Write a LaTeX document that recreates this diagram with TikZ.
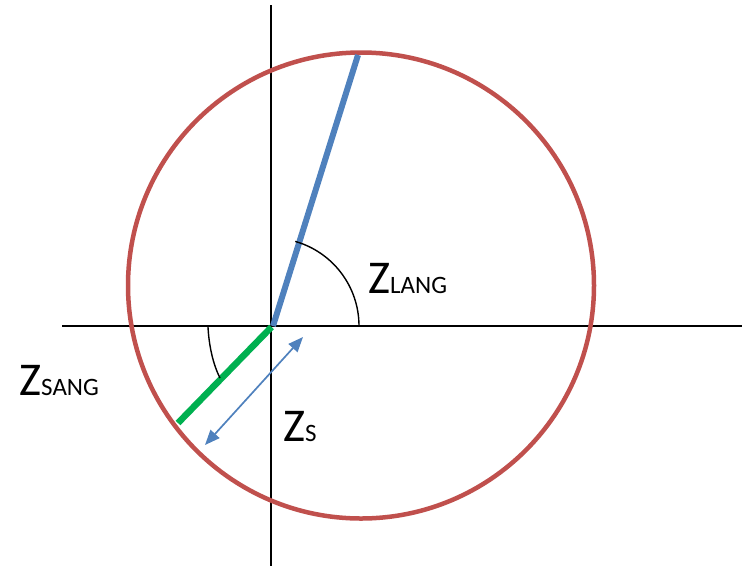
\documentclass[tikz,border=0pt]{standalone}
\usepackage{fontspec}
\setmainfont{Carlito}
\usetikzlibrary{arrows.meta}
\definecolor{circred}{RGB}{192,80,77}
\definecolor{lineblue}{RGB}{79,129,189}
\definecolor{linegreen}{RGB}{0,176,80}
\tikzset{
  axis/.style={line width=2.2pt, black},
  anglearc/.style={line width=1.4pt, black},
  lbl/.style={anchor=base west, inner sep=0pt, text=black},
}
\newcommand{\bigZ}{\fontsize{47}{47}\selectfont Z}
\newcommand{\smallsub}[1]{\fontsize{25}{25}\selectfont #1}
\begin{document}
\begin{tikzpicture}[x=1pt,y=-1pt]
\useasboundingbox (0,0) rectangle (742,566);
% coordinates
\coordinate (O) at (271,326);
\coordinate (vt) at (271,5);
\coordinate (vb) at (271,566);
\coordinate (hl) at (62,326);
\coordinate (hr) at (742,326);
\coordinate (C) at (361,285.5);
\coordinate (bs) at (273,326);
\coordinate (be) at (358,55);
\coordinate (gs) at (271.5,327);
\coordinate (ge) at (178,423);
\coordinate (a1) at (303,337);
\coordinate (a2) at (205,445);
\coordinate (s1) at (208,327);
\coordinate (s2) at (220,378);
% axes
\draw[axis] (vt) -- (vb);
\draw[axis] (hl) -- (hr);
% circle
\draw[circred, line width=4.5pt] (C) circle[radius=233pt];
% blue line
\draw[lineblue, line width=6pt] (bs) -- (be);
% green line
\draw[linegreen, line width=6.5pt] (gs) -- (ge);
% double arrow
\draw[lineblue, line width=1.7pt, {Triangle[length=15pt,width=12pt]}-{Triangle[length=15pt,width=12pt]}] (a1) -- (a2);
% angle arcs
\draw[anglearc] (O) ++(88pt,0pt) arc[start angle=0, end angle=74, radius=88pt];
\draw[anglearc] (s1) .. controls (209,346) and (213,364) .. (s2);
% labels
\node[lbl] (zlang) at (368,293) {\bigZ\smallsub{LANG}};
\node[lbl] (zsang) at (19,395) {\bigZ\smallsub{SANG}};
\node[lbl] (zs) at (283,441) {\bigZ\smallsub{S}};
\end{tikzpicture}
\end{document}
